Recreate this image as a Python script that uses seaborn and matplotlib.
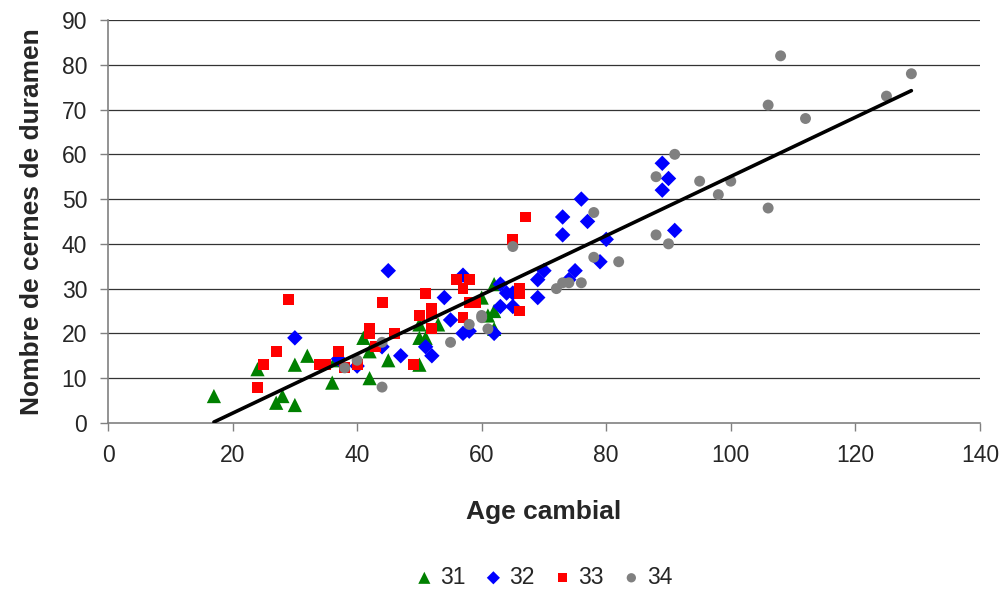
import numpy as np
import pandas as pd
import matplotlib
matplotlib.use("Agg")
import matplotlib.pyplot as plt
import seaborn as sns

# Values (age cambial, nombre de cernes)
age_31 = [17, 24, 27, 28, 30, 30, 32, 36, 36.5, 41, 42, 42, 45, 50, 50, 50, 51, 53, 60, 61, 62, 62, 62]
cernes_31 = [6, 12, 4.5, 6, 13, 4, 15, 9, 14, 19, 10, 16, 14, 13, 19, 22, 19, 22, 28, 24, 25, 21, 31]

age_32 = [30, 37, 40, 44, 45, 47, 51, 52, 54, 55, 57, 57, 58, 62, 63, 63, 64, 65, 65, 69, 69, 70,
          73, 73, 74, 75, 76, 77, 79, 80, 89, 89, 90, 91]
cernes_32 = [19, 14.3, 12.7, 17, 34, 15, 17, 15, 28, 23, 33, 20, 20.5, 20, 31, 26, 29, 26, 29, 32, 28, 34,
             46, 42, 32, 34, 50, 45, 36, 41, 58, 52, 54.6, 43]

age_33 = [24, 25, 27, 29, 34, 35, 37, 38, 40, 42, 42, 43, 44, 46, 49, 50, 51, 52, 52, 52,
          56, 57, 57, 58, 58, 59, 65, 66, 66, 66, 67]
cernes_33 = [8, 13, 16, 27.5, 13, 13, 16, 12.3, 13, 21, 20, 17, 27, 20, 13, 24, 29, 25.5, 24.5, 21,
             32, 30, 23.5, 32, 27, 27, 41, 30, 29, 25, 46]

age_34 = [38, 40, 44, 44, 55, 58, 60, 60, 61, 65, 72, 73, 74, 76, 78, 78, 82, 88, 88, 90,
          91, 95, 98, 100, 106, 106, 108, 112, 125, 129]
cernes_34 = [12.3, 14, 8, 18, 18, 22, 24, 23.5, 21, 39.4, 30, 31.3, 31.3, 31.3, 47, 37, 36, 55, 42, 40,
             60, 54, 51, 54, 71, 48, 82, 68, 73, 78]

series = ["31", "32", "33", "34"]
colors = ["#008000", "#0000FF", "#FF0000", "#808080"]
markers = ["^", "D", "s", "o"]
sizes = [105, 62, 62, 62]

data = {"31": (age_31, cernes_31), "32": (age_32, cernes_32),
        "33": (age_33, cernes_33), "34": (age_34, cernes_34)}
df = pd.concat([pd.DataFrame({"age": a, "cernes": c, "serie": s}) for s, (a, c) in data.items()],
               ignore_index=True)

sns.set_theme(style="white")
plt.rcParams["font.family"] = ["Liberation Sans", "DejaVu Sans"]

fig = plt.figure(figsize=(10.05, 5.89), dpi=100)
ax = fig.add_axes([0.1075, 0.282, 0.8675, 0.684])

# horizontal grid lines
for v in range(10, 100, 10):
    ax.axhline(v, color="#333333", lw=0.9, zorder=0)

for s, col, mk, sz in zip(series, colors, markers, sizes):
    sub = df[df["serie"] == s]
    sns.scatterplot(data=sub, x="age", y="cernes", color=col, marker=mk, s=sz,
                    edgecolor="none", linewidth=0, ax=ax, label=s, zorder=3)

# linear trend over all points
slope, intercept = np.polyfit(df["age"], df["cernes"], 1)
xs = np.array([df["age"].min(), df["age"].max()])
ax.plot(xs, slope * xs + intercept, color="black", lw=2.6, zorder=4)

ax.set_xlim(0, 140)
ax.set_ylim(0, 90)
ax.set_xticks(range(0, 141, 20))
ax.set_yticks(range(0, 91, 10))
ax.tick_params(axis="both", direction="out", length=6, width=1, color="#808080",
               labelsize=16.5, left=True, bottom=True)
ax.tick_params(axis="y", pad=9)
ax.tick_params(axis="x", pad=9)
for side in ["top", "right"]:
    ax.spines[side].set_visible(False)
for side in ["left", "bottom"]:
    ax.spines[side].set_color("#808080")
    ax.spines[side].set_linewidth(1.2)

ax.set_xlabel("Age cambial", fontsize=19, fontweight="bold", labelpad=24)
ax.set_ylabel("Nombre de cernes de duramen", fontsize=19, fontweight="bold", labelpad=13)

ax.legend(loc="lower center", bbox_to_anchor=(0.5, -0.463), ncol=4, frameon=False,
          fontsize=16.5, handlelength=0.8, handletextpad=0.3, columnspacing=0.8,
          markerscale=0.85)

fig.savefig("out.png", dpi=100)
